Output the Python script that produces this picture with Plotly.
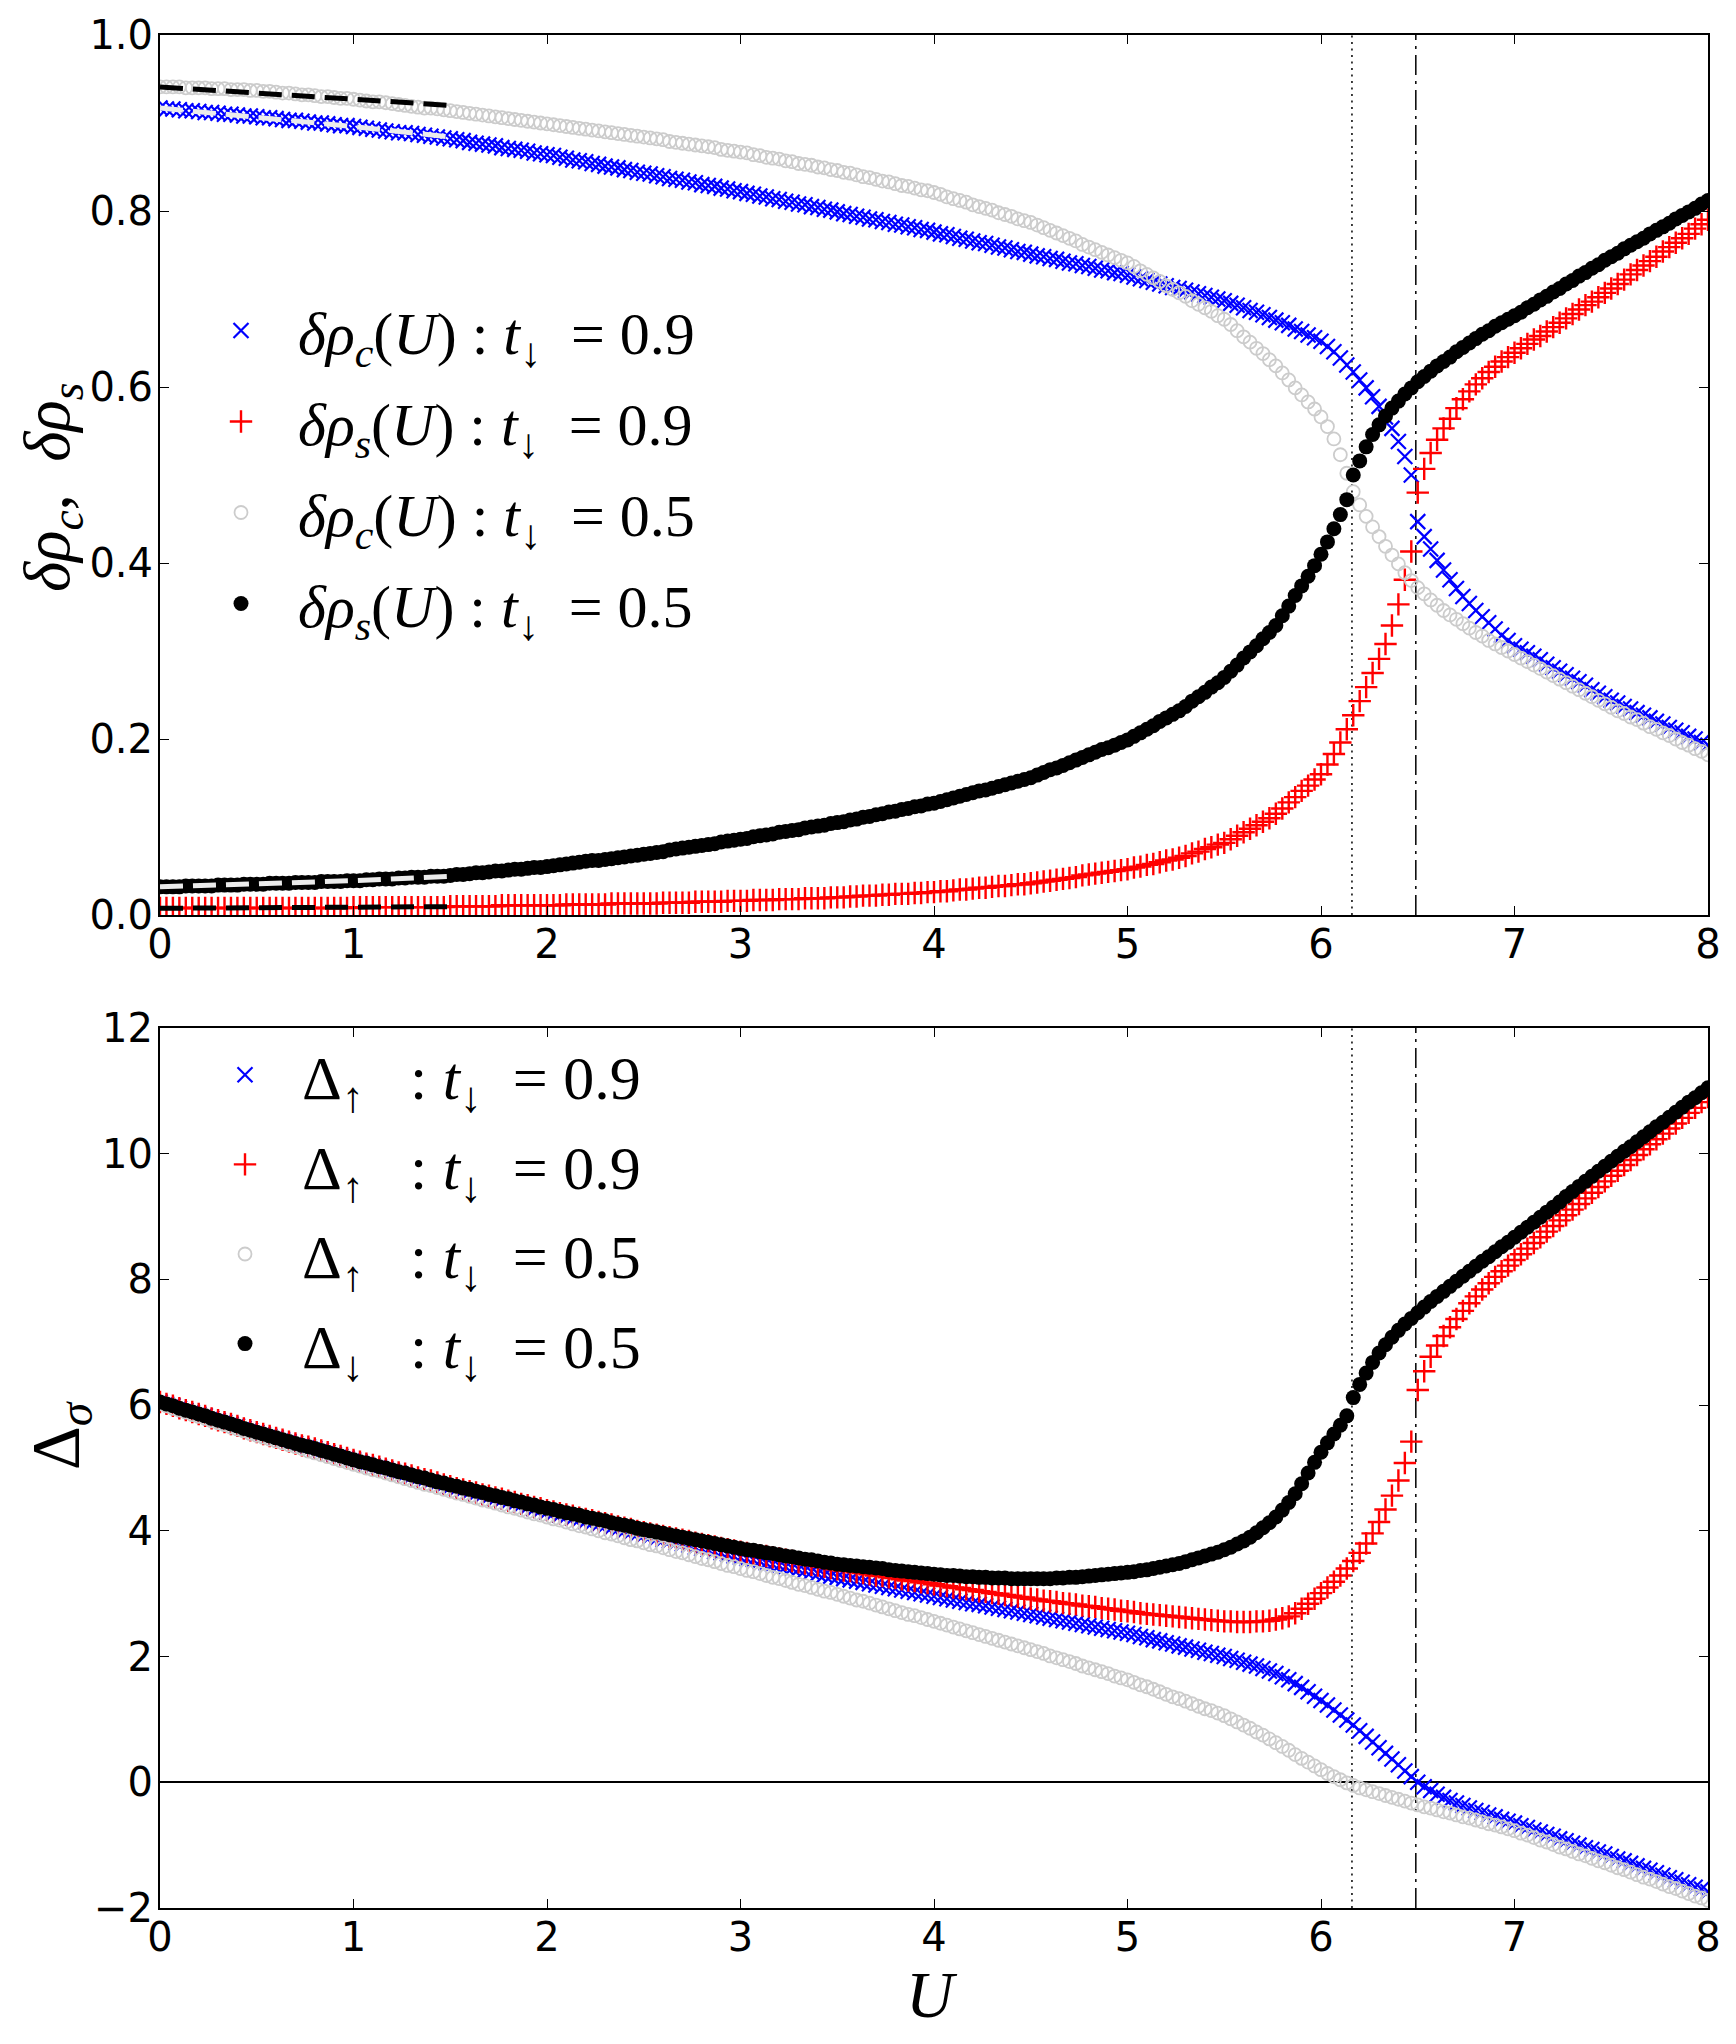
import plotly.graph_objects as go

# ---------------- data ----------------
U = [k / 30 for k in range(241)]          # sampling grid in U (step 1/30)

# critical interaction strengths (vertical lines)
U_CRIT = [6.16, 6.49]

# top panel: density differences
rc9 = [0.917, 0.916, 0.916, 0.915, 0.914, 0.914, 0.913, 0.912, 0.912, 0.911, 0.910, 0.910, 0.909, 0.908, 0.908,
       0.907, 0.906, 0.906, 0.905, 0.904, 0.903, 0.903, 0.902, 0.901, 0.900, 0.900, 0.899, 0.898, 0.897, 0.897,
       0.896, 0.895, 0.894, 0.893, 0.892, 0.891, 0.890, 0.889, 0.889, 0.888, 0.887, 0.886, 0.885, 0.884, 0.883,
       0.882, 0.881, 0.880, 0.878, 0.877, 0.876, 0.875, 0.874, 0.872, 0.871, 0.870, 0.869, 0.868, 0.866, 0.865,
       0.864, 0.863, 0.861, 0.860, 0.858, 0.857, 0.856, 0.854, 0.853, 0.851, 0.850, 0.849, 0.847, 0.846, 0.844,
       0.843, 0.842, 0.840, 0.839, 0.837, 0.836, 0.835, 0.833, 0.832, 0.830, 0.829, 0.828, 0.826, 0.825, 0.823,
       0.822, 0.820, 0.819, 0.817, 0.816, 0.814, 0.813, 0.811, 0.810, 0.808, 0.807, 0.805, 0.804, 0.802, 0.801,
       0.799, 0.797, 0.796, 0.794, 0.793, 0.791, 0.790, 0.788, 0.787, 0.785, 0.784, 0.782, 0.781, 0.779, 0.778,
       0.776, 0.774, 0.773, 0.771, 0.769, 0.768, 0.766, 0.764, 0.763, 0.761, 0.759, 0.758, 0.756, 0.754, 0.753,
       0.751, 0.749, 0.748, 0.746, 0.745, 0.743, 0.741, 0.740, 0.738, 0.737, 0.735, 0.733, 0.732, 0.730, 0.729,
       0.727, 0.725, 0.723, 0.721, 0.719, 0.717, 0.715, 0.713, 0.712, 0.710, 0.708, 0.706, 0.704, 0.702, 0.700,
       0.698, 0.695, 0.693, 0.690, 0.687, 0.685, 0.682, 0.679, 0.676, 0.673, 0.670, 0.666, 0.663, 0.659, 0.656,
       0.652, 0.646, 0.640, 0.633, 0.625, 0.617, 0.608, 0.599, 0.589, 0.578, 0.566, 0.553, 0.538, 0.521, 0.500,
       0.447, 0.430, 0.416, 0.403, 0.392, 0.381, 0.371, 0.362, 0.354, 0.346, 0.339, 0.332, 0.325, 0.318, 0.312,
       0.306, 0.302, 0.298, 0.294, 0.290, 0.285, 0.281, 0.277, 0.273, 0.269, 0.265, 0.261, 0.256, 0.252, 0.248,
       0.244, 0.241, 0.237, 0.234, 0.230, 0.227, 0.224, 0.220, 0.217, 0.213, 0.210, 0.207, 0.203, 0.200, 0.196,
       0.193]

rs9 = [0.008, 0.008, 0.008, 0.008, 0.008, 0.008, 0.008, 0.008, 0.008, 0.008, 0.008, 0.008, 0.008, 0.008, 0.008,
       0.008, 0.008, 0.008, 0.008, 0.008, 0.008, 0.008, 0.008, 0.008, 0.008, 0.008, 0.008, 0.008, 0.008, 0.008,
       0.009, 0.009, 0.009, 0.009, 0.009, 0.009, 0.009, 0.009, 0.009, 0.009, 0.009, 0.009, 0.009, 0.009, 0.009,
       0.010, 0.010, 0.010, 0.010, 0.010, 0.010, 0.010, 0.010, 0.011, 0.011, 0.011, 0.011, 0.011, 0.011, 0.011,
       0.011, 0.011, 0.011, 0.012, 0.012, 0.012, 0.012, 0.012, 0.012, 0.012, 0.013, 0.013, 0.013, 0.013, 0.013,
       0.013, 0.013, 0.013, 0.014, 0.014, 0.014, 0.014, 0.014, 0.015, 0.015, 0.015, 0.015, 0.015, 0.016, 0.016,
       0.016, 0.016, 0.017, 0.017, 0.017, 0.017, 0.018, 0.018, 0.018, 0.018, 0.019, 0.019, 0.019, 0.019, 0.020,
       0.020, 0.020, 0.021, 0.021, 0.022, 0.022, 0.022, 0.023, 0.023, 0.024, 0.024, 0.024, 0.025, 0.025, 0.026,
       0.026, 0.027, 0.027, 0.028, 0.029, 0.029, 0.030, 0.031, 0.031, 0.032, 0.033, 0.033, 0.034, 0.035, 0.035,
       0.036, 0.037, 0.038, 0.039, 0.040, 0.041, 0.042, 0.043, 0.045, 0.046, 0.047, 0.048, 0.049, 0.050, 0.051,
       0.052, 0.054, 0.055, 0.057, 0.058, 0.060, 0.062, 0.063, 0.065, 0.067, 0.070, 0.072, 0.075, 0.077, 0.080,
       0.082, 0.086, 0.090, 0.094, 0.098, 0.102, 0.106, 0.110, 0.115, 0.121, 0.128, 0.134, 0.141, 0.147, 0.154,
       0.160, 0.171, 0.183, 0.196, 0.211, 0.227, 0.243, 0.259, 0.275, 0.291, 0.308, 0.329, 0.353, 0.381, 0.413,
       0.480, 0.507, 0.525, 0.540, 0.553, 0.564, 0.576, 0.586, 0.595, 0.603, 0.610, 0.617, 0.623, 0.629, 0.634,
       0.639, 0.644, 0.649, 0.654, 0.658, 0.663, 0.668, 0.673, 0.678, 0.683, 0.688, 0.693, 0.697, 0.702, 0.707,
       0.712, 0.717, 0.722, 0.728, 0.733, 0.738, 0.743, 0.748, 0.754, 0.759, 0.764, 0.769, 0.774, 0.780, 0.785,
       0.790]

rc5 = [0.941, 0.941, 0.941, 0.941, 0.940, 0.940, 0.940, 0.940, 0.939, 0.939, 0.939, 0.938, 0.938, 0.938, 0.937,
       0.937, 0.936, 0.936, 0.935, 0.934, 0.934, 0.933, 0.932, 0.932, 0.931, 0.930, 0.930, 0.929, 0.928, 0.928,
       0.927, 0.926, 0.925, 0.924, 0.924, 0.923, 0.922, 0.921, 0.920, 0.919, 0.918, 0.917, 0.917, 0.916, 0.915,
       0.914, 0.913, 0.912, 0.911, 0.910, 0.909, 0.908, 0.907, 0.906, 0.905, 0.904, 0.903, 0.902, 0.901, 0.900,
       0.899, 0.898, 0.897, 0.896, 0.895, 0.894, 0.893, 0.892, 0.891, 0.890, 0.889, 0.888, 0.887, 0.886, 0.885,
       0.884, 0.883, 0.882, 0.881, 0.879, 0.878, 0.877, 0.876, 0.875, 0.874, 0.873, 0.872, 0.870, 0.869, 0.868,
       0.867, 0.866, 0.864, 0.863, 0.861, 0.860, 0.859, 0.857, 0.856, 0.854, 0.853, 0.852, 0.850, 0.849, 0.847,
       0.846, 0.844, 0.843, 0.841, 0.839, 0.838, 0.836, 0.834, 0.833, 0.831, 0.829, 0.828, 0.826, 0.824, 0.823,
       0.821, 0.819, 0.816, 0.814, 0.812, 0.810, 0.807, 0.805, 0.803, 0.801, 0.798, 0.796, 0.794, 0.791, 0.789,
       0.787, 0.784, 0.781, 0.778, 0.775, 0.772, 0.769, 0.766, 0.762, 0.759, 0.756, 0.753, 0.750, 0.747, 0.744,
       0.741, 0.737, 0.732, 0.728, 0.724, 0.720, 0.715, 0.711, 0.707, 0.703, 0.698, 0.694, 0.690, 0.686, 0.681,
       0.677, 0.671, 0.664, 0.657, 0.651, 0.644, 0.638, 0.631, 0.624, 0.616, 0.608, 0.599, 0.591, 0.583, 0.575,
       0.566, 0.555, 0.541, 0.523, 0.502, 0.481, 0.466, 0.453, 0.441, 0.430, 0.419, 0.409, 0.399, 0.389, 0.380,
       0.372, 0.365, 0.358, 0.352, 0.346, 0.341, 0.336, 0.331, 0.326, 0.321, 0.317, 0.312, 0.308, 0.304, 0.300,
       0.296, 0.292, 0.288, 0.284, 0.280, 0.276, 0.272, 0.268, 0.264, 0.260, 0.256, 0.252, 0.248, 0.244, 0.240,
       0.236, 0.232, 0.229, 0.225, 0.222, 0.218, 0.214, 0.211, 0.207, 0.204, 0.200, 0.196, 0.193, 0.189, 0.186,
       0.182]

rs5 = [0.032, 0.032, 0.032, 0.032, 0.033, 0.033, 0.033, 0.033, 0.033, 0.034, 0.034, 0.034, 0.034, 0.035, 0.035,
       0.035, 0.035, 0.036, 0.036, 0.036, 0.036, 0.037, 0.037, 0.037, 0.037, 0.038, 0.038, 0.038, 0.038, 0.039,
       0.039, 0.039, 0.040, 0.040, 0.041, 0.041, 0.041, 0.042, 0.042, 0.043, 0.043, 0.043, 0.044, 0.044, 0.044,
       0.045, 0.046, 0.046, 0.047, 0.048, 0.048, 0.049, 0.050, 0.050, 0.051, 0.052, 0.052, 0.053, 0.054, 0.054,
       0.055, 0.056, 0.057, 0.058, 0.059, 0.060, 0.061, 0.062, 0.062, 0.063, 0.064, 0.065, 0.066, 0.067, 0.068,
       0.069, 0.070, 0.071, 0.072, 0.074, 0.075, 0.076, 0.077, 0.078, 0.079, 0.080, 0.081, 0.083, 0.084, 0.085,
       0.086, 0.087, 0.089, 0.090, 0.091, 0.092, 0.094, 0.095, 0.096, 0.097, 0.099, 0.100, 0.101, 0.102, 0.104,
       0.105, 0.106, 0.108, 0.109, 0.111, 0.112, 0.114, 0.115, 0.117, 0.118, 0.120, 0.121, 0.123, 0.124, 0.126,
       0.127, 0.129, 0.131, 0.133, 0.135, 0.137, 0.139, 0.141, 0.142, 0.144, 0.146, 0.148, 0.150, 0.152, 0.154,
       0.156, 0.159, 0.162, 0.165, 0.167, 0.170, 0.173, 0.176, 0.179, 0.182, 0.185, 0.188, 0.190, 0.193, 0.196,
       0.199, 0.203, 0.207, 0.211, 0.215, 0.220, 0.224, 0.228, 0.232, 0.237, 0.243, 0.248, 0.253, 0.259, 0.264,
       0.270, 0.277, 0.284, 0.292, 0.299, 0.306, 0.314, 0.321, 0.329, 0.340, 0.351, 0.363, 0.374, 0.385, 0.397,
       0.410, 0.424, 0.439, 0.455, 0.472, 0.500, 0.516, 0.532, 0.546, 0.557, 0.567, 0.576, 0.584, 0.592, 0.599,
       0.606, 0.612, 0.618, 0.624, 0.629, 0.634, 0.640, 0.645, 0.650, 0.655, 0.660, 0.664, 0.669, 0.673, 0.677,
       0.681, 0.685, 0.690, 0.694, 0.699, 0.703, 0.708, 0.712, 0.717, 0.721, 0.726, 0.730, 0.735, 0.739, 0.744,
       0.748, 0.752, 0.757, 0.761, 0.765, 0.769, 0.774, 0.778, 0.782, 0.786, 0.791, 0.795, 0.799, 0.803, 0.808,
       0.812]

# small-U reference (perturbative) lines, top panel
PT_U = [0.0, 0.5, 1.0, 1.5]
pt_rc9 = [0.917, 0.907, 0.896, 0.884]
pt_rs9 = [0.0076, 0.0082, 0.0088, 0.0095]
pt_rc5 = [0.941, 0.934, 0.927, 0.920]
pt_rs5 = [0.032, 0.035, 0.039, 0.044]

# bottom panel: gaps
d9up = [6.05, 6.02, 5.99, 5.95, 5.92, 5.89, 5.86, 5.83, 5.79, 5.76, 5.73, 5.70, 5.67, 5.63, 5.60,
        5.57, 5.54, 5.51, 5.48, 5.45, 5.42, 5.39, 5.36, 5.34, 5.31, 5.28, 5.25, 5.22, 5.19, 5.16,
        5.13, 5.10, 5.07, 5.04, 5.02, 4.99, 4.96, 4.93, 4.90, 4.87, 4.84, 4.81, 4.79, 4.76, 4.73,
        4.70, 4.67, 4.65, 4.62, 4.59, 4.57, 4.54, 4.51, 4.49, 4.46, 4.43, 4.41, 4.38, 4.35, 4.33,
        4.30, 4.28, 4.25, 4.23, 4.20, 4.18, 4.15, 4.13, 4.10, 4.08, 4.05, 4.03, 4.00, 3.98, 3.95,
        3.93, 3.91, 3.88, 3.86, 3.84, 3.81, 3.79, 3.77, 3.74, 3.72, 3.70, 3.67, 3.65, 3.63, 3.60,
        3.58, 3.56, 3.54, 3.52, 3.49, 3.47, 3.45, 3.43, 3.41, 3.39, 3.37, 3.35, 3.32, 3.30, 3.28,
        3.26, 3.24, 3.22, 3.20, 3.18, 3.16, 3.14, 3.12, 3.10, 3.08, 3.06, 3.04, 3.02, 3.00, 2.98,
        2.96, 2.94, 2.92, 2.90, 2.88, 2.86, 2.84, 2.83, 2.81, 2.79, 2.77, 2.75, 2.73, 2.71, 2.69,
        2.67, 2.65, 2.63, 2.61, 2.59, 2.57, 2.55, 2.53, 2.51, 2.49, 2.47, 2.45, 2.43, 2.41, 2.39,
        2.37, 2.35, 2.32, 2.30, 2.27, 2.25, 2.22, 2.20, 2.17, 2.15, 2.12, 2.10, 2.07, 2.05, 2.02,
        2.00, 1.97, 1.94, 1.91, 1.88, 1.85, 1.81, 1.77, 1.73, 1.68, 1.63, 1.57, 1.51, 1.44, 1.37,
        1.30, 1.23, 1.15, 1.07, 0.99, 0.91, 0.82, 0.73, 0.64, 0.55, 0.46, 0.37, 0.28, 0.18, 0.09,
        0.00, -0.07, -0.13, -0.19, -0.24, -0.29, -0.33, -0.37, -0.41, -0.45, -0.48, -0.52, -0.55, -0.59, -0.62,
        -0.65, -0.69, -0.72, -0.76, -0.79, -0.83, -0.86, -0.90, -0.93, -0.97, -1.00, -1.04, -1.07, -1.11, -1.14,
        -1.18, -1.22, -1.25, -1.29, -1.33, -1.37, -1.40, -1.44, -1.48, -1.52, -1.55, -1.59, -1.63, -1.67, -1.70,
        -1.74]

d9dn = [6.05, 6.02, 5.99, 5.95, 5.92, 5.89, 5.86, 5.83, 5.79, 5.76, 5.73, 5.70, 5.67, 5.63, 5.60,
        5.57, 5.54, 5.51, 5.48, 5.45, 5.42, 5.39, 5.36, 5.34, 5.31, 5.28, 5.25, 5.22, 5.19, 5.16,
        5.13, 5.10, 5.07, 5.05, 5.02, 4.99, 4.96, 4.93, 4.91, 4.88, 4.85, 4.82, 4.80, 4.77, 4.74,
        4.71, 4.68, 4.66, 4.63, 4.61, 4.58, 4.56, 4.53, 4.51, 4.48, 4.46, 4.43, 4.41, 4.38, 4.36,
        4.33, 4.31, 4.28, 4.26, 4.24, 4.21, 4.19, 4.17, 4.14, 4.12, 4.10, 4.07, 4.05, 4.03, 4.00,
        3.98, 3.96, 3.94, 3.92, 3.90, 3.88, 3.86, 3.84, 3.81, 3.79, 3.77, 3.75, 3.73, 3.71, 3.69,
        3.67, 3.65, 3.63, 3.61, 3.60, 3.58, 3.56, 3.54, 3.52, 3.50, 3.48, 3.46, 3.45, 3.43, 3.41,
        3.39, 3.37, 3.36, 3.34, 3.33, 3.31, 3.29, 3.28, 3.26, 3.25, 3.23, 3.21, 3.20, 3.18, 3.17,
        3.15, 3.13, 3.12, 3.10, 3.09, 3.07, 3.06, 3.04, 3.03, 3.01, 3.00, 2.98, 2.97, 2.95, 2.94,
        2.92, 2.91, 2.89, 2.88, 2.87, 2.85, 2.84, 2.83, 2.81, 2.80, 2.79, 2.77, 2.76, 2.75, 2.73,
        2.72, 2.71, 2.69, 2.68, 2.67, 2.66, 2.65, 2.64, 2.63, 2.62, 2.61, 2.60, 2.59, 2.58, 2.57,
        2.56, 2.56, 2.55, 2.55, 2.55, 2.56, 2.56, 2.57, 2.59, 2.61, 2.64, 2.69, 2.76, 2.84, 2.92,
        3.01, 3.10, 3.19, 3.29, 3.40, 3.52, 3.65, 3.80, 3.96, 4.14, 4.34, 4.56, 4.80, 5.08, 5.42,
        6.24, 6.54, 6.77, 6.95, 7.10, 7.24, 7.37, 7.50, 7.62, 7.73, 7.84, 7.94, 8.04, 8.13, 8.22,
        8.31, 8.40, 8.49, 8.58, 8.67, 8.76, 8.85, 8.94, 9.02, 9.11, 9.20, 9.29, 9.38, 9.47, 9.56,
        9.65, 9.73, 9.82, 9.90, 9.98, 10.07, 10.15, 10.23, 10.32, 10.40, 10.48, 10.57, 10.65, 10.73, 10.82,
        10.90]

d5up = [6.02, 5.99, 5.95, 5.92, 5.89, 5.85, 5.82, 5.79, 5.75, 5.72, 5.69, 5.65, 5.62, 5.59, 5.55,
        5.52, 5.49, 5.46, 5.43, 5.40, 5.37, 5.34, 5.31, 5.27, 5.24, 5.21, 5.18, 5.15, 5.12, 5.09,
        5.06, 5.03, 5.00, 4.97, 4.95, 4.92, 4.89, 4.86, 4.83, 4.80, 4.77, 4.74, 4.72, 4.69, 4.66,
        4.63, 4.60, 4.58, 4.55, 4.52, 4.49, 4.47, 4.44, 4.41, 4.38, 4.36, 4.33, 4.30, 4.27, 4.25,
        4.22, 4.19, 4.17, 4.14, 4.11, 4.08, 4.06, 4.03, 4.00, 3.97, 3.95, 3.92, 3.89, 3.86, 3.84,
        3.81, 3.78, 3.76, 3.73, 3.70, 3.67, 3.65, 3.62, 3.59, 3.56, 3.54, 3.51, 3.48, 3.45, 3.43,
        3.40, 3.37, 3.35, 3.32, 3.29, 3.26, 3.24, 3.21, 3.18, 3.15, 3.13, 3.10, 3.07, 3.04, 3.02,
        2.99, 2.96, 2.93, 2.90, 2.88, 2.85, 2.82, 2.79, 2.76, 2.73, 2.70, 2.67, 2.65, 2.62, 2.59,
        2.56, 2.53, 2.50, 2.47, 2.44, 2.41, 2.38, 2.35, 2.32, 2.29, 2.26, 2.23, 2.20, 2.17, 2.14,
        2.11, 2.08, 2.05, 2.01, 1.98, 1.95, 1.92, 1.89, 1.85, 1.82, 1.79, 1.76, 1.73, 1.69, 1.66,
        1.63, 1.59, 1.55, 1.52, 1.48, 1.44, 1.40, 1.36, 1.33, 1.29, 1.25, 1.21, 1.17, 1.14, 1.10,
        1.06, 1.01, 0.96, 0.91, 0.86, 0.80, 0.75, 0.69, 0.63, 0.57, 0.51, 0.44, 0.38, 0.32, 0.26,
        0.20, 0.14, 0.09, 0.04, -0.01, -0.05, -0.09, -0.12, -0.15, -0.18, -0.21, -0.24, -0.27, -0.30, -0.33,
        -0.36, -0.39, -0.41, -0.44, -0.47, -0.49, -0.52, -0.55, -0.57, -0.60, -0.63, -0.66, -0.68, -0.71, -0.74,
        -0.77, -0.81, -0.84, -0.88, -0.92, -0.95, -0.99, -1.03, -1.06, -1.10, -1.14, -1.17, -1.21, -1.25, -1.28,
        -1.32, -1.36, -1.39, -1.43, -1.47, -1.51, -1.54, -1.58, -1.62, -1.66, -1.69, -1.73, -1.77, -1.81, -1.84,
        -1.88]

d5dn = [6.05, 6.02, 5.99, 5.95, 5.92, 5.89, 5.86, 5.83, 5.79, 5.76, 5.73, 5.70, 5.67, 5.63, 5.60,
        5.57, 5.54, 5.51, 5.48, 5.45, 5.42, 5.39, 5.36, 5.34, 5.31, 5.28, 5.25, 5.22, 5.19, 5.16,
        5.13, 5.10, 5.08, 5.05, 5.02, 5.00, 4.97, 4.94, 4.92, 4.89, 4.86, 4.84, 4.81, 4.78, 4.76,
        4.73, 4.71, 4.68, 4.66, 4.63, 4.61, 4.58, 4.56, 4.53, 4.51, 4.48, 4.46, 4.43, 4.41, 4.38,
        4.36, 4.34, 4.31, 4.29, 4.27, 4.25, 4.22, 4.20, 4.18, 4.16, 4.13, 4.11, 4.09, 4.07, 4.04,
        4.02, 4.00, 3.98, 3.96, 3.94, 3.92, 3.90, 3.88, 3.86, 3.84, 3.82, 3.80, 3.78, 3.76, 3.74,
        3.72, 3.70, 3.69, 3.67, 3.65, 3.64, 3.62, 3.60, 3.59, 3.57, 3.55, 3.54, 3.52, 3.50, 3.49,
        3.47, 3.46, 3.45, 3.44, 3.43, 3.42, 3.41, 3.40, 3.38, 3.37, 3.36, 3.35, 3.34, 3.33, 3.32,
        3.31, 3.30, 3.29, 3.29, 3.28, 3.27, 3.27, 3.26, 3.26, 3.25, 3.25, 3.25, 3.24, 3.24, 3.24,
        3.24, 3.24, 3.24, 3.24, 3.25, 3.25, 3.26, 3.26, 3.27, 3.28, 3.29, 3.30, 3.31, 3.32, 3.33,
        3.34, 3.35, 3.37, 3.38, 3.40, 3.42, 3.44, 3.46, 3.48, 3.51, 3.54, 3.57, 3.60, 3.63, 3.66,
        3.70, 3.74, 3.79, 3.84, 3.90, 3.97, 4.05, 4.13, 4.22, 4.33, 4.45, 4.59, 4.75, 4.92, 5.09,
        5.25, 5.40, 5.54, 5.68, 5.83, 6.12, 6.33, 6.51, 6.68, 6.83, 6.96, 7.08, 7.19, 7.29, 7.38,
        7.47, 7.56, 7.65, 7.73, 7.81, 7.89, 7.97, 8.05, 8.13, 8.21, 8.29, 8.36, 8.44, 8.52, 8.59,
        8.67, 8.75, 8.83, 8.91, 8.99, 9.07, 9.15, 9.23, 9.32, 9.40, 9.48, 9.56, 9.64, 9.72, 9.80,
        9.88, 9.96, 10.04, 10.11, 10.19, 10.27, 10.35, 10.43, 10.50, 10.58, 10.66, 10.74, 10.82, 10.89, 10.97,
        11.05]

for s in (rc9, rs9, rc5, rs5, d9up, d9dn, d5up, d5dn):
    assert len(s) == len(U)

TOP_NAMES = ["<i>δρ</i><sub><i>c</i></sub>(<i>U</i>) : <i>t</i><sub>↓</sub>  = 0.9",
             "<i>δρ</i><sub><i>s</i></sub>(<i>U</i>) : <i>t</i><sub>↓</sub>  = 0.9",
             "<i>δρ</i><sub><i>c</i></sub>(<i>U</i>) : <i>t</i><sub>↓</sub>  = 0.5",
             "<i>δρ</i><sub><i>s</i></sub>(<i>U</i>) : <i>t</i><sub>↓</sub>  = 0.5"]
BOT_NAMES = ["Δ<sub>↑</sub>   : <i>t</i><sub>↓</sub>  = 0.9",
             "Δ<sub>↑</sub>   : <i>t</i><sub>↓</sub>  = 0.9",
             "Δ<sub>↑</sub>   : <i>t</i><sub>↓</sub>  = 0.5",
             "Δ<sub>↓</sub>   : <i>t</i><sub>↓</sub>  = 0.5"]

# ---------------- styling ----------------
W, H = 1736, 2044
X0, X1 = 160, 1708
TOP_PX = (35, 915)
BOT_PX = (1028, 1908)
SERIF = "Liberation Serif"
SANS = "DejaVu Sans"

BLUE, RED, GREY, BLACK = "#0000ff", "#ff0000", "#cccccc", "#000000"
STYLES = [
    dict(symbol="x-thin", size=15, color=BLUE, line=dict(color=BLUE, width=2.2)),
    dict(symbol="cross-thin", size=16, color=RED, line=dict(color=RED, width=2.4)),
    dict(symbol="circle-open", size=13, color=GREY, line=dict(color=GREY, width=1.8)),
    dict(symbol="circle", size=15, color=BLACK, line=dict(width=0)),
]

fig = go.Figure()

top_series = [rc9, rs9, rc5, rs5]
bot_series = [d9up, d9dn, d5up, d5dn]
for i, (ys, name) in enumerate(zip(top_series, TOP_NAMES)):
    fig.add_trace(go.Scatter(x=U, y=ys, mode="markers", name=name, marker=STYLES[i],
                             xaxis="x", yaxis="y", legend="legend", legendgroup=f"t{i}"))
for i, (ys, name) in enumerate(zip(bot_series, BOT_NAMES)):
    fig.add_trace(go.Scatter(x=U, y=ys, mode="markers", name=name, marker=STYLES[i],
                             xaxis="x2", yaxis="y2", legend="legend2", legendgroup=f"b{i}"))

# perturbative reference lines (top panel)
for ys, col in ((pt_rc9, "#ebebeb"), (pt_rs5, "#ebebeb"), (pt_rc5, BLACK), (pt_rs9, BLACK)):
    fig.add_trace(go.Scatter(x=PT_U, y=ys, mode="lines", showlegend=False, hoverinfo="skip",
                             line=dict(color=col, width=5, dash="23px,10px"),
                             xaxis="x", yaxis="y"))

# vertical critical lines
for xr, yr in (("x", "y domain"), ("x2", "y2 domain")):
    fig.add_shape(type="line", xref=xr, yref=yr, x0=U_CRIT[0], x1=U_CRIT[0], y0=0, y1=1,
                  line=dict(color=BLACK, width=1.5, dash="2px,4.5px"), layer="below")
    fig.add_shape(type="line", xref=xr, yref=yr, x0=U_CRIT[1], x1=U_CRIT[1], y0=0, y1=1,
                  line=dict(color=BLACK, width=1.5, dash="20px,6px,3px,6px"), layer="below")

axis_common = dict(showline=True, linecolor=BLACK, linewidth=2, mirror="ticks", ticks="inside",
                   ticklen=9, tickwidth=1.2, tickcolor=BLACK, showgrid=False, automargin=False,
                   tickfont=dict(family=SANS, size=40, color=BLACK))
xaxis_common = dict(range=[0, 8], dtick=1, tick0=0, zeroline=False, ticklabelstandoff=-7,
                    domain=[X0 / W, X1 / W], **axis_common)


def ydom(px):
    t, b = px
    return [1 - b / H, 1 - t / H]


legend_common = dict(xanchor="left", yanchor="top", bgcolor="rgba(0,0,0,0)", borderwidth=0,
                     itemwidth=104)

fig.update_layout(
    template="none",
    width=W, height=H, margin=dict(l=0, r=0, t=0, b=0, pad=0, autoexpand=False),
    paper_bgcolor="white", plot_bgcolor="white", showlegend=True,
    xaxis=dict(anchor="y", **xaxis_common),
    yaxis=dict(domain=ydom(TOP_PX), anchor="x", range=[0, 1], dtick=0.2, tick0=0,
               tickformat=".1f", zeroline=False, ticklabelstandoff=-3, **axis_common),
    xaxis2=dict(anchor="y2", **xaxis_common),
    yaxis2=dict(domain=ydom(BOT_PX), anchor="x2", range=[-2, 12], dtick=2, tick0=0,
                zeroline=True, zerolinecolor=BLACK, zerolinewidth=2, ticklabelstandoff=-3,
                **axis_common),
    legend=dict(x=184 / W, y=1 - 285 / H, tracegroupgap=10,
                font=dict(family=SERIF, size=60, color=BLACK), **legend_common),
    legend2=dict(x=188 / W, y=1 - 1028 / H, tracegroupgap=6,
                 font=dict(family=SERIF, size=62, color=BLACK), **legend_common),
    annotations=[
        dict(text="<i>δρ</i><sub><i>c</i></sub>,  <i>δρ</i><sub><i>s</i></sub>", textangle=-90,
             x=52 / W, y=1 - 487 / H, xref="paper", yref="paper", showarrow=False,
             xanchor="center", yanchor="middle",
             font=dict(family=SERIF, size=65, color=BLACK)),
        dict(text="Δ<sub><i>σ</i></sub>", textangle=-90,
             x=59 / W, y=1 - 1436 / H, xref="paper", yref="paper", showarrow=False,
             xanchor="center", yanchor="middle",
             font=dict(family=SERIF, size=68, color=BLACK)),
        dict(text="<i>U</i>", x=932 / W, y=1 - 1994 / H, xref="paper", yref="paper",
             showarrow=False, xanchor="center", yanchor="middle",
             font=dict(family=SERIF, size=66, color=BLACK)),
    ],
)

fig.write_html("out.html")
